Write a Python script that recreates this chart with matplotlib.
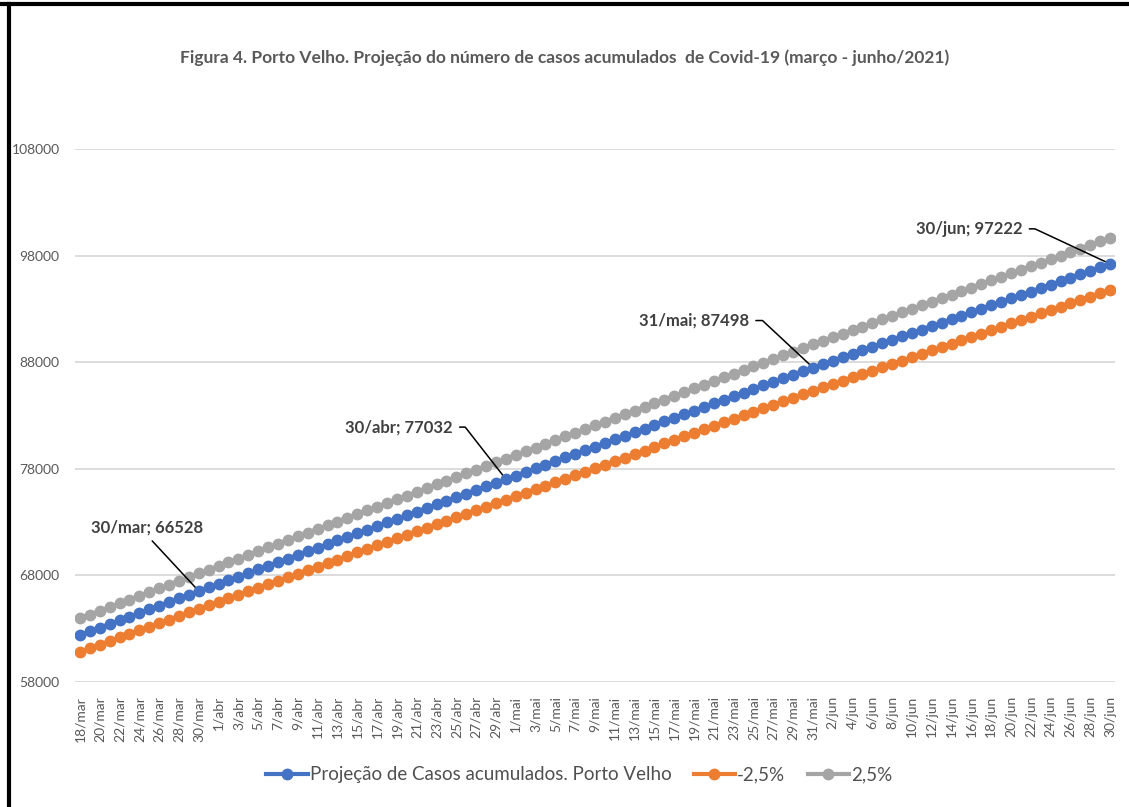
import matplotlib
matplotlib.use('Agg')
import numpy as np
import matplotlib.pyplot as plt

plt.rcParams['font.family'] = ['Lato', 'DejaVu Sans']

# dias: 18/mar ate 30/jun (categorias do eixo x)
meses = [('mar', 18, 31), ('abr', 1, 30), ('mai', 1, 31), ('jun', 1, 30)]
datas = [f'{d}/{m}' for m, d0, d1 in meses for d in range(d0, d1 + 1)]

# projecao de casos acumulados - Porto Velho
projecao = [62400, 62744, 63088, 63432, 63776, 64120, 64464, 64808, 65152, 65496,
            65840, 66184, 66528, 66867, 67206, 67545, 67884, 68223, 68562, 68901,
            69240, 69579, 69918, 70257, 70596, 70935, 71274, 71613, 71952, 72291,
            72630, 72969, 73308, 73647, 73986, 74325, 74664, 75002, 75340, 75678,
            76016, 76354, 76692, 77032, 77370, 77708, 78046, 78384, 78722, 79060,
            79398, 79736, 80074, 80412, 80750, 81088, 81426, 81764, 82102, 82440,
            82778, 83116, 83454, 83791, 84128, 84465, 84802, 85139, 85476, 85813,
            86150, 86487, 86824, 87161, 87498, 87822, 88146, 88470, 88794, 89118,
            89442, 89766, 90090, 90414, 90738, 91062, 91386, 91710, 92034, 92358,
            92682, 93006, 93330, 93654, 93978, 94302, 94626, 94950, 95274, 95598,
            95922, 96247, 96572, 96897, 97222]

# cenario -2,5%
menos25 = [60840, 61175, 61511, 61846, 62182, 62517, 62852, 63188, 63523, 63859,
           64194, 64530, 64865, 65195, 65526, 65856, 66186, 66517, 66847, 67177,
           67508, 67838, 68169, 68499, 68829, 69160, 69490, 69820, 70151, 70481,
           70811, 71142, 71472, 71802, 72133, 72463, 72793, 73124, 73454, 73784,
           74115, 74445, 74776, 75106, 75435, 75764, 76094, 76423, 76752, 77081,
           77410, 77740, 78069, 78398, 78727, 79056, 79385, 79715, 80044, 80373,
           80702, 81031, 81361, 81690, 82019, 82348, 82677, 83007, 83336, 83665,
           83994, 84323, 84653, 84982, 85311, 85627, 85943, 86259, 86575, 86891,
           87207, 87523, 87839, 88155, 88471, 88787, 89103, 89419, 89735, 90051,
           90367, 90683, 90999, 91315, 91631, 91947, 92263, 92579, 92895, 93211,
           93527, 93843, 94159, 94475, 94791]

# cenario +2,5%
mais25 = [63960, 64313, 64665, 65018, 65370, 65723, 66076, 66428, 66781, 67133,
          67486, 67838, 68191, 68538, 68886, 69233, 69580, 69928, 70275, 70622,
          70970, 71317, 71664, 72012, 72359, 72706, 73053, 73401, 73748, 74095,
          74443, 74790, 75137, 75485, 75832, 76179, 76527, 76874, 77221, 77569,
          77916, 78263, 78611, 78958, 79304, 79650, 79996, 80342, 80688, 81034,
          81380, 81726, 82072, 82418, 82764, 83110, 83456, 83802, 84148, 84494,
          84841, 85187, 85533, 85879, 86225, 86571, 86917, 87263, 87609, 87955,
          88301, 88647, 88993, 89339, 89685, 90017, 90349, 90682, 91014, 91346,
          91679, 92011, 92343, 92675, 93008, 93340, 93672, 94005, 94337, 94669,
          95001, 95334, 95666, 95998, 96330, 96663, 96995, 97327, 97660, 97992,
          98324, 98656, 98989, 99321, 99653]

rotulos = ['30/mar', '30/abr', '31/mai', '30/jun']
yticks = [58000, 68000, 78000, 88000, 98000, 108000]

cinza = '#595959'
fig = plt.figure(figsize=(11.29, 8.07), dpi=100)
ax = fig.add_axes([0.0664, 0.1549, 0.9212, 0.6605])

x = np.arange(len(datas))
ax.plot(x, mais25, color='#A5A5A5', lw=3, marker='o', ms=7.5, label='2,5%', zorder=3)
ax.plot(x, menos25, color='#ED7D31', lw=3, marker='o', ms=7.5, label='-2,5%', zorder=3)
ax.plot(x, projecao, color='#4472C4', lw=3, marker='o', ms=7.5,
        label='Projeção de Casos acumulados. Porto Velho', zorder=4)

ax.set_xlim(-0.5, len(datas) - 0.5)
ax.set_ylim(58000, 108000)
ax.set_yticks(yticks)
ax.set_yticklabels([str(v) for v in yticks])
ax.set_xticks(x[::2])
ax.set_xticklabels(datas[::2], rotation=90)
ax.tick_params(axis='both', length=0, colors=cinza, labelsize=10)
ax.tick_params(axis='x', pad=10)
ax.tick_params(axis='y', pad=11)
ax.grid(axis='y', color='#D9D9D9', lw=1.3)
ax.set_axisbelow(True)
for s in ax.spines.values():
    s.set_visible(False)

# rotulos de dados
config = {'30/mar': ((-52, 64), (0.5, 0), 'arc3'),
          '30/abr': ((-107, 52), (1, 0.5), 'angle,angleA=0,angleB=-52,rad=0'),
          '31/mai': ((-119, 47), (1, 0.5), 'angle,angleA=0,angleB=-43,rad=0'),
          '30/jun': ((-141, 35), (1, 0.5), 'angle,angleA=0,angleB=-25,rad=0')}
for r in rotulos:
    i = datas.index(r)
    off, rp, cs = config[r]
    ax.annotate(f'{r}; {projecao[i]}', xy=(i, projecao[i]), xytext=off,
                textcoords='offset pixels', ha='center', va='center',
                fontsize=12, fontweight='bold', color='#404040',
                arrowprops=dict(arrowstyle='-', color='black', lw=1.1,
                                relpos=rp, connectionstyle=cs, shrinkA=3, shrinkB=0))

fig.text(0.5, 0.928, 'Figura 4. Porto Velho. Projeção do número de casos acumulados  de Covid-19 (março - junho/2021)',
         ha='center', va='center', fontsize=12.5, fontweight='bold', color=cinza)

h, l = ax.get_legend_handles_labels()
fig.legend(h[::-1], l[::-1], loc='center', bbox_to_anchor=(0.513, 0.04), ncol=3,
           frameon=False, fontsize=13.5, labelcolor='#505050', handlelength=2.2,
           handletextpad=0.1, columnspacing=1.2)

# moldura
fig.add_artist(plt.Line2D([0, 1], [0.995, 0.995], color='black', lw=3, transform=fig.transFigure))
fig.add_artist(plt.Line2D([0.008, 0.008], [0, 0.995], color='black', lw=3, transform=fig.transFigure))

fig.savefig('out.png', dpi=100)
